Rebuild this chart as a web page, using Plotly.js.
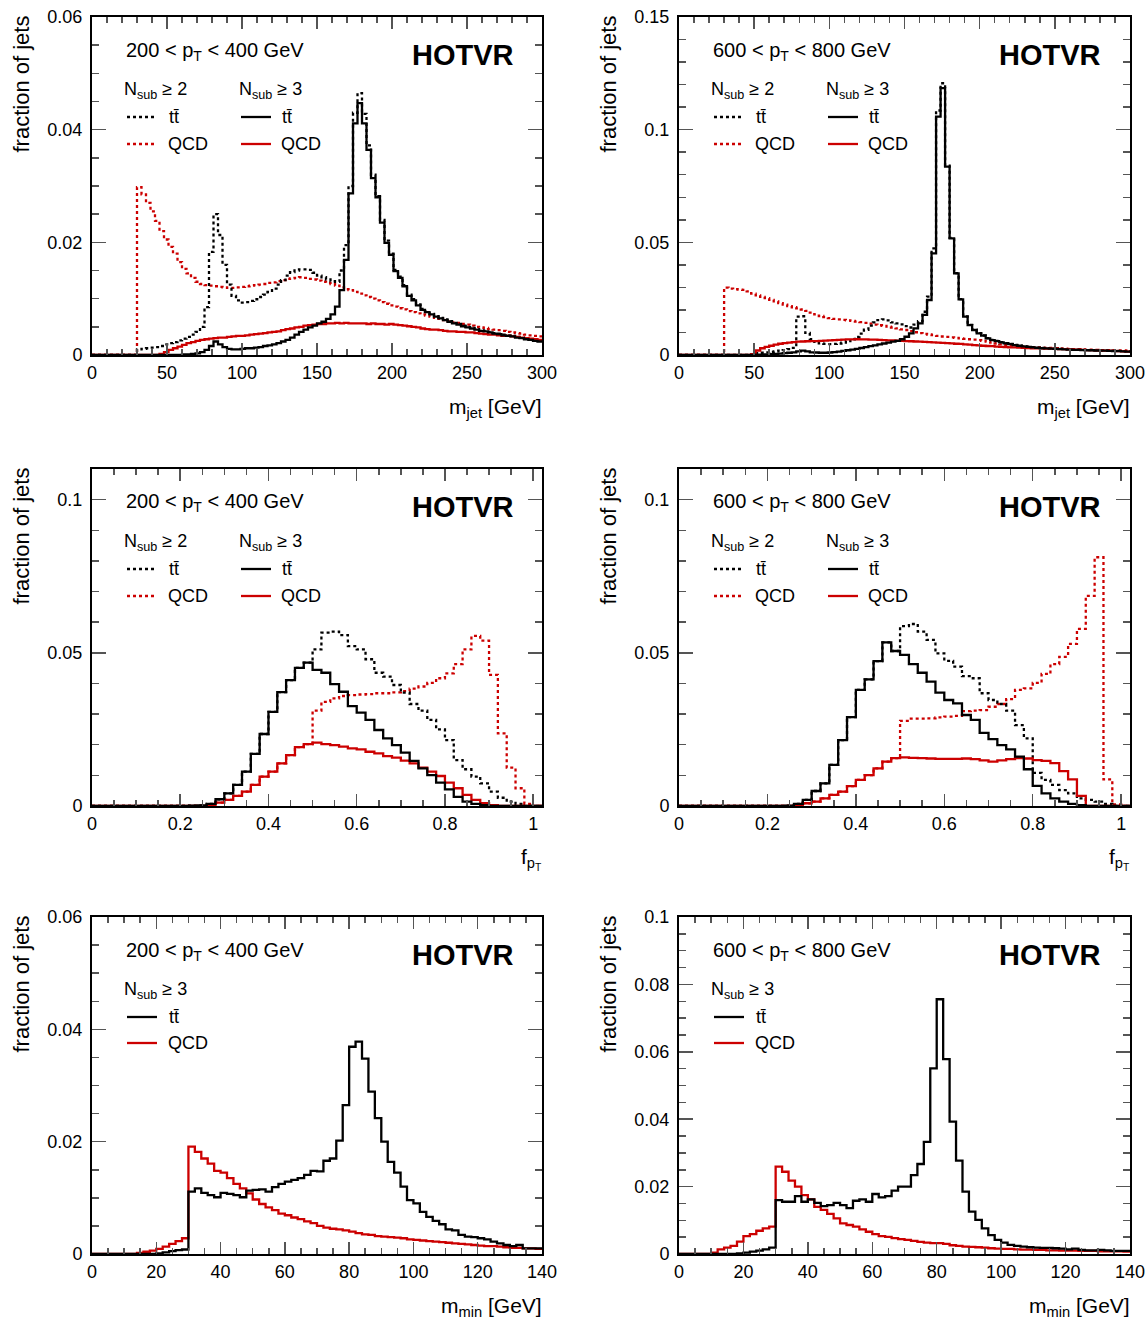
<!DOCTYPE html>
<html>
<head>
<meta charset="utf-8">
<script src="https://cdn.plot.ly/plotly-3.0.1.min.js"></script>
<style>html,body{margin:0;padding:0;background:#fff;}#plot{width:1148px;height:1322px;}</style>
</head>
<body>
<div id="plot"></div>
<script>
// ---------------- DATA ----------------
// m_jet, 3 GeV bins from 0 to 300 GeV (100 bins)
const mjetLow = 0, mjetWidth = 3;
// 200 < pT < 400 GeV
const mjet_lo_tt_n2 = [0,0,0,0,0,0,0,0,0,0,
 0.0010,0.0011,0.0012,0.0013,0.0014,0.0016,0.0019,0.0021,0.0023,0.0026,
 0.0029,0.0032,0.0036,0.0041,0.0050,0.0085,0.0183,0.0250,0.0213,0.0160,
 0.0125,0.0105,0.0097,0.0093,0.0094,0.0096,0.0099,0.0103,0.0107,0.0112,
 0.0118,0.0125,0.0133,0.0141,0.0147,0.0150,0.0152,0.0152,0.0151,0.0146,
 0.0141,0.0138,0.0134,0.0131,0.0130,0.0150,0.0195,0.0300,0.0430,0.0465,
 0.0428,0.0372,0.0320,0.0282,0.0240,0.0203,0.0180,0.0151,0.0139,0.0124,
 0.0107,0.0099,0.0090,0.0082,0.0077,0.0073,0.0069,0.0066,0.0063,0.0060,
 0.0057,0.0055,0.0052,0.0050,0.0048,0.0046,0.0044,0.0043,0.0041,0.0039,
 0.0038,0.0036,0.0035,0.0034,0.0032,0.0031,0.0029,0.0028,0.0026,0.0025];
const mjet_lo_tt_n3 = [0,0,0,0,0,0,0,0,0,0,
 0,0,0,0,0,0,0,0,0,0,
 0.0001,0.0001,0.0002,0.0003,0.0005,0.0009,0.0016,0.0024,0.0019,0.0014,
 0.0011,0.0010,0.0010,0.0011,0.0012,0.0012,0.0013,0.0014,0.0016,0.0017,
 0.0019,0.0021,0.0024,0.0027,0.0031,0.0036,0.0041,0.0045,0.0049,0.0052,
 0.0056,0.0059,0.0064,0.0072,0.0086,0.0115,0.0169,0.0287,0.0411,0.0447,
 0.0411,0.0364,0.0314,0.0280,0.0235,0.0199,0.0178,0.0149,0.0137,0.0122,
 0.0105,0.0097,0.0088,0.0080,0.0076,0.0072,0.0068,0.0065,0.0062,0.0059,
 0.0056,0.0054,0.0051,0.0049,0.0047,0.0045,0.0043,0.0042,0.0040,0.0038,
 0.0037,0.0035,0.0034,0.0033,0.0031,0.0030,0.0028,0.0027,0.0025,0.0024];
const mjet_lo_qcd_n2 = [0,0,0,0,0,0,0,0,0,0,
 0.0298,0.0285,0.0270,0.0255,0.0238,0.0220,0.0205,0.0192,0.0180,0.0165,
 0.0153,0.0145,0.0137,0.0130,0.0126,0.0124,0.0123,0.0122,0.0121,0.0120,
 0.0119,0.0119,0.0120,0.0121,0.0122,0.0123,0.0124,0.0125,0.0126,0.0128,
 0.0129,0.0131,0.0133,0.0135,0.0136,0.0137,0.0138,0.0137,0.0135,0.0134,
 0.0132,0.0130,0.0128,0.0126,0.0123,0.0120,0.0117,0.0115,0.0112,0.0109,
 0.0106,0.0103,0.0100,0.0097,0.0094,0.0091,0.0088,0.0086,0.0083,0.0081,
 0.0078,0.0076,0.0074,0.0072,0.0070,0.0068,0.0066,0.0064,0.0062,0.0060,
 0.0058,0.0057,0.0055,0.0054,0.0052,0.0050,0.0049,0.0048,0.0046,0.0045,
 0.0044,0.0043,0.0041,0.0040,0.0039,0.0038,0.0036,0.0035,0.0034,0.0033];
const mjet_lo_qcd_n3 = [0,0,0,0,0,0,0,0,0,0,
 0,0,0,0,0,0.0002,0.0005,0.0009,0.0012,0.0015,
 0.0018,0.0021,0.0023,0.0025,0.0027,0.0028,0.0029,0.0030,0.0031,0.0031,
 0.0032,0.0033,0.0034,0.0034,0.0035,0.0036,0.0037,0.0038,0.0039,0.0040,
 0.0041,0.0042,0.0044,0.0046,0.0047,0.0049,0.0050,0.0052,0.0053,0.0054,
 0.0055,0.0055,0.0056,0.0056,0.0057,0.0056,0.0057,0.0056,0.0056,0.0056,
 0.0056,0.0055,0.0056,0.0055,0.0055,0.0054,0.0055,0.0054,0.0053,0.0052,
 0.0051,0.0050,0.0049,0.0047,0.0046,0.0045,0.0045,0.0044,0.0043,0.0042,
 0.0042,0.0041,0.0041,0.0040,0.0040,0.0039,0.0038,0.0037,0.0036,0.0036,
 0.0035,0.0034,0.0034,0.0033,0.0032,0.0031,0.0030,0.0029,0.0028,0.0027];
// 600 < pT < 800 GeV
const mjet_hi_tt_n2 = [0,0,0,0,0,0,0,0,0,0,
 0,0,0,0,0,0,0,0.0008,0.0010,0.0012,
 0.0014,0.0016,0.0019,0.0022,0.0026,0.0032,0.0170,0.0172,0.0098,0.0070,
 0.0058,0.0052,0.0049,0.0048,0.0049,0.0051,0.0055,0.0062,0.0070,0.0080,
 0.0095,0.0112,0.0130,0.0145,0.0155,0.0158,0.0154,0.0145,0.0140,0.0136,
 0.0128,0.0122,0.0135,0.0150,0.0192,0.0259,0.0473,0.1085,0.1206,0.0840,
 0.0520,0.0363,0.0248,0.0171,0.0134,0.0112,0.0097,0.0087,0.0075,0.0067,
 0.0063,0.0057,0.0053,0.0049,0.0045,0.0042,0.0039,0.0037,0.0035,0.0033,
 0.0031,0.0030,0.0029,0.0028,0.0027,0.0026,0.0025,0.0024,0.0024,0.0023,
 0.0022,0.0022,0.0021,0.0020,0.0020,0.0019,0.0018,0.0018,0.0017,0.0016];
const mjet_hi_tt_n3 = [0,0,0,0,0,0,0,0,0,0,
 0,0,0,0,0,0,0,0.0001,0.0002,0.0003,
 0.0004,0.0005,0.0006,0.0008,0.0010,0.0012,0.0016,0.0019,0.0016,0.0012,
 0.0011,0.0010,0.0010,0.0011,0.0013,0.0015,0.0018,0.0021,0.0024,0.0027,
 0.0031,0.0035,0.0039,0.0043,0.0047,0.0051,0.0055,0.0059,0.0063,0.0070,
 0.0081,0.0096,0.0118,0.0140,0.0178,0.0244,0.0451,0.1058,0.1184,0.0836,
 0.0518,0.0362,0.0247,0.0170,0.0133,0.0111,0.0096,0.0086,0.0074,0.0066,
 0.0062,0.0056,0.0052,0.0048,0.0044,0.0041,0.0038,0.0036,0.0034,0.0032,
 0.0030,0.0029,0.0028,0.0027,0.0026,0.0025,0.0024,0.0023,0.0023,0.0022,
 0.0021,0.0021,0.0020,0.0019,0.0019,0.0018,0.0017,0.0017,0.0016,0.0015];
const mjet_hi_qcd_n2 = [0,0,0,0,0,0,0,0,0,0,
 0.0299,0.0295,0.0292,0.0290,0.0289,0.0282,0.0272,0.0265,0.0258,0.0252,
 0.0245,0.0238,0.0230,0.0224,0.0217,0.0212,0.0207,0.0202,0.0196,0.0188,
 0.0180,0.0173,0.0168,0.0164,0.0160,0.0158,0.0156,0.0154,0.0151,0.0148,
 0.0146,0.0143,0.0139,0.0135,0.0132,0.0129,0.0126,0.0122,0.0118,0.0114,
 0.0111,0.0106,0.0101,0.0097,0.0094,0.0091,0.0088,0.0085,0.0082,0.0080,
 0.0078,0.0076,0.0074,0.0072,0.0070,0.0068,0.0066,0.0063,0.0059,0.0055,
 0.0051,0.0047,0.0044,0.0042,0.0040,0.0039,0.0038,0.0036,0.0035,0.0034,
 0.0033,0.0032,0.0031,0.0030,0.0029,0.0028,0.0027,0.0026,0.0026,0.0025,
 0.0024,0.0024,0.0023,0.0022,0.0022,0.0021,0.0021,0.0020,0.0020,0.0019];
const mjet_hi_qcd_n3 = [0,0,0,0,0,0,0,0,0,0,
 0,0,0,0,0,0,0.0004,0.0020,0.0030,0.0036,
 0.0041,0.0046,0.0050,0.0053,0.0055,0.0057,0.0059,0.0060,0.0061,0.0062,
 0.0062,0.0063,0.0064,0.0065,0.0066,0.0067,0.0068,0.0069,0.0069,0.0070,
 0.0069,0.0069,0.0068,0.0068,0.0067,0.0066,0.0065,0.0065,0.0064,0.0063,
 0.0062,0.0061,0.0060,0.0059,0.0058,0.0057,0.0056,0.0055,0.0054,0.0053,
 0.0052,0.0050,0.0049,0.0047,0.0046,0.0044,0.0043,0.0041,0.0040,0.0039,
 0.0037,0.0036,0.0035,0.0034,0.0034,0.0033,0.0032,0.0031,0.0030,0.0030,
 0.0029,0.0028,0.0028,0.0027,0.0026,0.0026,0.0025,0.0024,0.0024,0.0023,
 0.0022,0.0022,0.0021,0.0020,0.0019,0.0019,0.0018,0.0017,0.0016,0.0015];

// f_pT, 0.02 bins from 0 to 1.02 (51 bins)
const fptLow = 0, fptWidth = 0.02;
const fpt_lo_tt_n3 = [0,0,0,0,0,0,0,0,0,0,
 0,0.0001,0.0002,0.0007,0.0022,0.0041,0.0069,0.0112,0.0170,0.0235,
 0.0307,0.0372,0.0411,0.0451,0.0468,0.0444,0.0435,0.0398,0.0373,0.0326,
 0.0305,0.0281,0.0248,0.0221,0.0199,0.0174,0.0147,0.0123,0.0101,0.0076,
 0.0054,0.0030,0.0014,0.0007,0.0003,0,0,0,0,0,0];
const fpt_lo_qcd_n3 = [0,0,0,0,0,0,0,0,0,0,
 0,0,0,0.0003,0.0011,0.0020,0.0033,0.0047,0.0069,0.0096,
 0.0112,0.0139,0.0166,0.0192,0.0202,0.0207,0.0202,0.0199,0.0194,0.0188,
 0.0185,0.0177,0.0172,0.0163,0.0158,0.0148,0.0139,0.0125,0.0112,0.0098,
 0.0076,0.0058,0.0036,0.0020,0.0009,0.0003,0,0,0,0,0];
const fpt_lo_tt_n2 = [0,0,0,0,0,0,0,0,0,0,
 0,0.0001,0.0002,0.0007,0.0022,0.0041,0.0069,0.0112,0.0170,0.0235,
 0.0307,0.0372,0.0411,0.0451,0.0468,0.0511,0.0566,0.0569,0.0558,0.0522,
 0.0511,0.0479,0.0435,0.0422,0.0395,0.0370,0.0333,0.0311,0.0281,0.0250,
 0.0215,0.0150,0.0120,0.0096,0.0074,0.0047,0.0027,0.0014,0.0007,0,0];
const fpt_lo_qcd_n2 = [0,0,0,0,0,0,0,0,0,0,
 0,0,0,0.0003,0.0011,0.0020,0.0033,0.0047,0.0069,0.0096,
 0.0112,0.0139,0.0166,0.0192,0.0202,0.0311,0.0340,0.0351,0.0359,0.0362,
 0.0364,0.0365,0.0368,0.0368,0.0371,0.0375,0.0383,0.0390,0.0402,0.0417,
 0.0433,0.0463,0.0511,0.0555,0.0540,0.0428,0.0237,0.0125,0.0058,0.0007,0];
const fpt_hi_tt_n3 = [0,0,0,0,0,0,0,0,0,0,
 0,0,0.0001,0.0007,0.0020,0.0049,0.0074,0.0134,0.0215,0.0290,
 0.0379,0.0413,0.0473,0.0534,0.0506,0.0493,0.0463,0.0435,0.0406,0.0370,
 0.0346,0.0335,0.0297,0.0281,0.0239,0.0218,0.0199,0.0185,0.0161,0.0120,
 0.0066,0.0041,0.0025,0.0014,0.0007,0.0003,0,0,0,0,0];
const fpt_hi_qcd_n3 = [0,0,0,0,0,0,0,0,0,0,
 0,0,0,0.0003,0.0009,0.0014,0.0025,0.0036,0.0047,0.0065,
 0.0085,0.0101,0.0123,0.0145,0.0156,0.0159,0.0157,0.0156,0.0155,0.0154,
 0.0154,0.0154,0.0155,0.0153,0.0149,0.0145,0.0149,0.0153,0.0156,0.0155,
 0.0150,0.0147,0.0140,0.0114,0.0087,0.0033,0,0,0,0,0];
const fpt_hi_tt_n2 = [0,0,0,0,0,0,0,0,0,0,
 0,0,0.0001,0.0007,0.0020,0.0049,0.0074,0.0134,0.0215,0.0290,
 0.0379,0.0413,0.0473,0.0534,0.0506,0.0587,0.0594,0.0569,0.0542,0.0498,
 0.0474,0.0455,0.0424,0.0417,0.0368,0.0346,0.0333,0.0311,0.0264,0.0221,
 0.0108,0.0085,0.0069,0.0052,0.0041,0.0025,0.0020,0.0014,0.0007,0,0];
const fpt_hi_qcd_n2 = [0,0,0,0,0,0,0,0,0,0,
 0,0,0,0.0003,0.0009,0.0014,0.0025,0.0036,0.0047,0.0065,
 0.0085,0.0101,0.0123,0.0145,0.0156,0.0278,0.0285,0.0285,0.0286,0.0289,
 0.0292,0.0294,0.0310,0.0311,0.0313,0.0324,0.0333,0.0349,0.0379,0.0384,
 0.0402,0.0431,0.0463,0.0487,0.0529,0.0578,0.0686,0.0812,0.0087,0.0005,0];

// m_min, 2 GeV bins from 0 to 140 GeV (70 bins), N_sub >= 3
const mminLow = 0, mminWidth = 2;
const mmin_lo_tt = [0,0,0,0,0,0,0,0,0,0,
 0.0001,0.0003,0.0005,0.0007,0.0008,0.0111,0.0117,0.0109,0.0105,0.0101,
 0.0109,0.0107,0.0105,0.0101,0.0113,0.0114,0.0115,0.0111,0.0119,0.0125,
 0.0129,0.0132,0.0135,0.0141,0.0148,0.0147,0.0166,0.0170,0.0202,0.0265,
 0.0369,0.0378,0.0348,0.0289,0.0242,0.0200,0.0164,0.0145,0.0120,0.0096,
 0.0090,0.0075,0.0066,0.0059,0.0053,0.0044,0.0042,0.0034,0.0031,0.0030,
 0.0028,0.0026,0.0022,0.0019,0.0016,0.0014,0.0016,0.0010,0.0010,0.0010];
const mmin_lo_qcd = [0,0,0,0,0,0,0,0.0002,0.0004,0.0006,
 0.0009,0.0013,0.0018,0.0023,0.0028,0.0191,0.0182,0.0170,0.0161,0.0148,
 0.0145,0.0135,0.0125,0.0117,0.0108,0.0097,0.0089,0.0083,0.0078,0.0072,
 0.0069,0.0065,0.0062,0.0058,0.0055,0.0050,0.0047,0.0045,0.0044,0.0042,
 0.0040,0.0037,0.0035,0.0034,0.0032,0.0031,0.0030,0.0029,0.0028,0.0026,
 0.0025,0.0024,0.0023,0.0022,0.0021,0.0020,0.0019,0.0018,0.0017,0.0016,
 0.0015,0.0014,0.0014,0.0013,0.0012,0.0011,0.0011,0.0010,0.0010,0.0009];
const mmin_hi_tt = [0,0,0,0,0,0,0,0,0,0.0002,
 0.0004,0.0007,0.0010,0.0014,0.0019,0.0160,0.0155,0.0155,0.0172,0.0155,
 0.0162,0.0152,0.0142,0.0145,0.0152,0.0145,0.0136,0.0158,0.0162,0.0155,
 0.0178,0.0168,0.0172,0.0188,0.0200,0.0200,0.0234,0.0267,0.0333,0.0551,
 0.0756,0.0578,0.0393,0.0277,0.0185,0.0126,0.0101,0.0076,0.0056,0.0042,
 0.0034,0.0027,0.0024,0.0022,0.0020,0.0019,0.0018,0.0018,0.0017,0.0016,
 0.0014,0.0016,0.0012,0.0011,0.0011,0.0012,0.0011,0.0009,0.0009,0.0009];
const mmin_hi_qcd = [0,0,0,0,0,0.0004,0.0014,0.0019,0.0024,0.0037,
 0.0053,0.0059,0.0069,0.0076,0.0081,0.0259,0.0244,0.0218,0.0200,0.0175,
 0.0162,0.0140,0.0131,0.0119,0.0106,0.0091,0.0086,0.0081,0.0073,0.0066,
 0.0059,0.0053,0.0051,0.0047,0.0044,0.0042,0.0039,0.0036,0.0034,0.0032,
 0.0032,0.0030,0.0026,0.0024,0.0022,0.0021,0.0020,0.0019,0.0017,0.0016,
 0.0015,0.0015,0.0014,0.0013,0.0013,0.0012,0.0012,0.0011,0.0011,0.0010,
 0.0010,0.0010,0.0009,0.0009,0.0009,0.0008,0.0008,0.0008,0.0008,0.0007];

// labels
const ptLabels = ['200 &lt; p<sub>T</sub> &lt; 400 GeV', '600 &lt; p<sub>T</sub> &lt; 800 GeV'];
const algoLabel = 'HOTVR';
const yTitle = 'fraction of jets';
const xTitles = ['m<sub>jet</sub> [GeV]', 'f<sub>p<sub>T</sub></sub>', 'm<sub>min</sub> [GeV]'];
const hdr2 = 'N<sub>sub</sub> \u2265 2', hdr3 = 'N<sub>sub</sub> \u2265 3';
const ttLabel = 'tt\u0304', qcdLabel = 'QCD';

// ---------------- LAYOUT ----------------
const W = 1148, H = 1322;
const FONT = 'Liberation Sans, Arial, Helvetica, sans-serif';
const RED = '#cc0000', BLACK = '#000000';
const px = v => v / W, py = v => 1 - v / H;

const cols = [{L: 92, R: 542}, {L: 679, R: 1130}];
const rows = [{T: 17, B: 355}, {T: 469, B: 806}, {T: 917, B: 1254}];

const axisCfg = [
  {x: {range: [0, 300], dtick: 50, minor: 10}, yl: {range: [0, 0.06], dtick: 0.02, minor: 0.005}, yr: {range: [0, 0.15], dtick: 0.05, minor: 0.01}},
  {x: {range: [0, 1.02], dtick: 0.2, minor: 0.05}, yl: {range: [0, 0.11], dtick: 0.05, minor: 0.01}, yr: {range: [0, 0.11], dtick: 0.05, minor: 0.01}},
  {x: {range: [0, 140], dtick: 20, minor: 5}, yl: {range: [0, 0.06], dtick: 0.02, minor: 0.005}, yr: {range: [0, 0.1], dtick: 0.02, minor: 0.005}}
];

const layout = {
  width: W, height: H, margin: {l: 0, r: 0, t: 0, b: 0},
  paper_bgcolor: '#fff', plot_bgcolor: '#fff', showlegend: false,
  font: {family: FONT, color: '#000', size: 18},
  annotations: [], shapes: []
};

function axisBase(cfg, isX) {
  return {
    range: cfg.range, dtick: cfg.dtick, tick0: 0, tickmode: 'linear',
    ticks: 'inside', ticklen: isX ? 12 : 14, tickwidth: 1.5, tickcolor: '#555',
    minor: {dtick: cfg.minor, tick0: 0, ticks: 'inside', ticklen: isX ? 6 : 7, tickwidth: 1.5, tickcolor: '#555', showgrid: false},
    showline: true, linecolor: '#000', linewidth: 2, mirror: 'ticks',
    showgrid: false, zeroline: false, fixedrange: true,
    tickfont: {family: FONT, size: 18, color: '#000'},
    ticklabelstandoff: isX ? 0 : 4
  };
}

const traces = [];
function hist(vals, lo, w, ax, ay, color, dash) {
  const x = [], y = [];
  vals.forEach((v, i) => { x.push(lo + i * w); y.push(v); });
  x.push(lo + vals.length * w); y.push(vals[vals.length - 1]);
  traces.push({type: 'scatter', mode: 'lines', x, y, xaxis: ax, yaxis: ay,
    line: {shape: 'hv', color, width: 2.3, dash}, hoverinfo: 'skip', showlegend: false});
}

const panelData = [
  [
    [mjet_lo_qcd_n2, mjet_lo_tt_n2, mjet_lo_qcd_n3, mjet_lo_tt_n3],
    [mjet_hi_qcd_n2, mjet_hi_tt_n2, mjet_hi_qcd_n3, mjet_hi_tt_n3]
  ],
  [
    [fpt_lo_qcd_n2, fpt_lo_tt_n2, fpt_lo_qcd_n3, fpt_lo_tt_n3],
    [fpt_hi_qcd_n2, fpt_hi_tt_n2, fpt_hi_qcd_n3, fpt_hi_tt_n3]
  ],
  [
    [null, null, mmin_lo_qcd, mmin_lo_tt],
    [null, null, mmin_hi_qcd, mmin_hi_tt]
  ]
];
const binning = [[mjetLow, mjetWidth], [fptLow, fptWidth], [mminLow, mminWidth]];

function ann(text, x, y, opts) {
  layout.annotations.push(Object.assign({text, x: px(x), y: py(y), xref: 'paper', yref: 'paper',
    showarrow: false, font: {family: FONT, size: 18, color: '#000'}}, opts));
}
function legLine(x0, x1, y, color, dash) {
  layout.shapes.push({type: 'line', xref: 'paper', yref: 'paper', x0: px(x0), x1: px(x1), y0: py(y), y1: py(y),
    line: {color, width: 2.3, dash}});
}

let n = 0;
rows.forEach((row, r) => {
  cols.forEach((col, c) => {
    n++;
    const xk = n === 1 ? 'xaxis' : 'xaxis' + n;
    const yk = n === 1 ? 'yaxis' : 'yaxis' + n;
    const xa = n === 1 ? 'x' : 'x' + n;
    const ya = n === 1 ? 'y' : 'y' + n;
    layout[xk] = Object.assign(axisBase(axisCfg[r].x, true), {domain: [px(col.L), px(col.R)], anchor: ya});
    layout[yk] = Object.assign(axisBase(c === 0 ? axisCfg[r].yl : axisCfg[r].yr, false), {domain: [py(row.B), py(row.T)], anchor: xa});

    const [lo, w] = binning[r];
    const d = panelData[r][c];
    if (d[0]) hist(d[0], lo, w, xa, ya, RED, 'dot');
    if (d[1]) hist(d[1], lo, w, xa, ya, BLACK, 'dot');
    hist(d[2], lo, w, xa, ya, RED, 'solid');
    hist(d[3], lo, w, xa, ya, BLACK, 'solid');

    const L = col.L, T = row.T;
    ann(ptLabels[c], L + 32, T + 34, {xanchor: 'left', yanchor: 'middle', font: {family: FONT, size: 20, color: '#000'}});
    ann('<b>' + algoLabel + '</b>', L + 424, T + 38, {xanchor: 'right', yanchor: 'middle', font: {family: FONT, size: 29, color: '#000'}});
    if (r < 2) {
      ann(hdr2, L + 30, T + 73, {xanchor: 'left', yanchor: 'middle'});
      ann(hdr3, L + 145, T + 73, {xanchor: 'left', yanchor: 'middle'});
      legLine(L + 35, L + 63, T + 100, BLACK, 'dot');
      legLine(L + 35, L + 63, T + 127, RED, 'dot');
      ann(ttLabel, L + 75, T + 100, {xanchor: 'left', yanchor: 'middle'});
      ann(qcdLabel, L + 74, T + 127, {xanchor: 'left', yanchor: 'middle'});
      legLine(L + 149, L + 179, T + 100, BLACK, 'solid');
      legLine(L + 149, L + 179, T + 127, RED, 'solid');
      ann(ttLabel, L + 188, T + 100, {xanchor: 'left', yanchor: 'middle'});
      ann(qcdLabel, L + 187, T + 127, {xanchor: 'left', yanchor: 'middle'});
    } else {
      ann(hdr3, L + 30, T + 73, {xanchor: 'left', yanchor: 'middle'});
      legLine(L + 35, L + 65, T + 100, BLACK, 'solid');
      legLine(L + 35, L + 65, T + 126, RED, 'solid');
      ann(ttLabel, L + 75, T + 100, {xanchor: 'left', yanchor: 'middle'});
      ann(qcdLabel, L + 74, T + 126, {xanchor: 'left', yanchor: 'middle'});
    }
    ann(yTitle, L - 71, T - 3, {xanchor: 'center', yanchor: 'top', textangle: -90, font: {family: FONT, size: 22, color: '#000'}});
    ann(xTitles[r], col.R + 2, row.B + 53, {xanchor: 'right', yanchor: 'middle', font: {family: FONT, size: 21, color: '#000'}});
  });
});

Plotly.newPlot('plot', traces, layout, {displayModeBar: false, staticPlot: true});
</script>
</body>
</html>
